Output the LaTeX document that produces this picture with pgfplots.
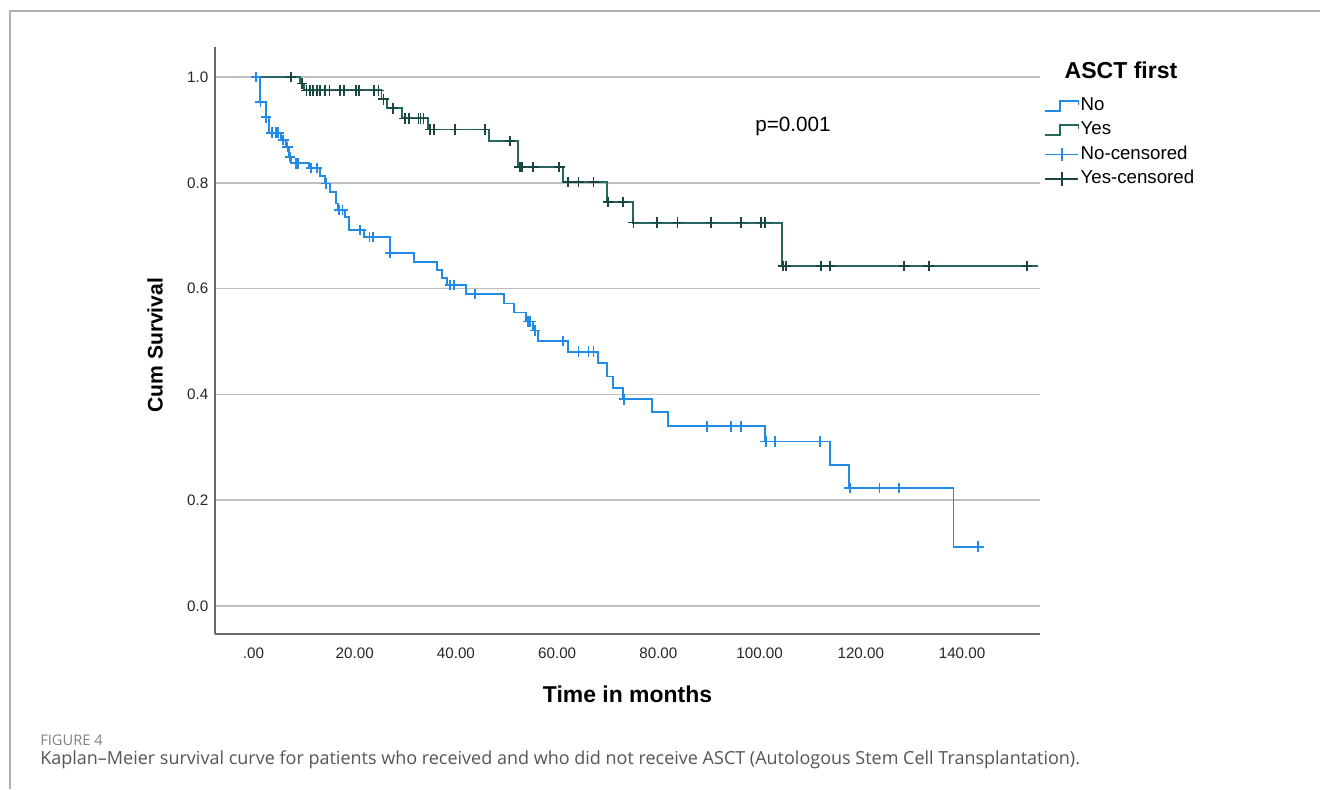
\documentclass[border=0pt]{standalone}
\usepackage{pgfplots}
\pgfplotsset{compat=1.18}
\usepackage{fontspec}
\setmainfont{Liberation Sans}
\newfontfamily\capfont{Open Sans}
\definecolor{noblue}{RGB}{33,140,230}
\definecolor{yesteal}{RGB}{38,104,96}
\definecolor{yesdark}{RGB}{25,70,65}
\definecolor{gridgray}{RGB}{190,190,190}
\definecolor{axisgray}{RGB}{105,105,105}
\definecolor{framegray}{RGB}{175,175,175}
\definecolor{capgray}{RGB}{85,85,85}

\pgfplotsset{
  steplegend/.style={legend image code/.code={\draw[##1] (0pt,-3.75pt) -- (11.25pt,-3.75pt) -- (11.25pt,3.75pt) -- (25pt,3.75pt) -- (25pt,0.75pt);}},
  censlegend/.style={legend image code/.code={\draw[##1] (0pt,0pt) -- (25pt,0pt); \draw[##1] (12.5pt,-5pt) -- (12.5pt,5pt);}},
}

\pgfplotstableread{
t s
0 1.0
9.2 0.988
10.0 0.975
25.3 0.958
26.4 0.941
29.3 0.922
34.5 0.901
46.6 0.879
52.3 0.830
61.2 0.802
69.9 0.764
74.9 0.725
104.4 0.643
155.1 0.643
}\yesstep

\pgfplotstableread{
t s
7.4 1.0
9.6 0.988
10.5 0.975
11.2 0.975
11.8 0.975
12.5 0.975
13.1 0.975
14.1 0.975
15.0 0.975
17.1 0.975
17.9 0.975
20.2 0.975
20.9 0.975
23.8 0.975
24.7 0.975
25.7 0.958
27.6 0.941
29.9 0.922
30.8 0.922
32.6 0.922
33.0 0.922
33.6 0.922
34.9 0.901
35.7 0.901
39.8 0.901
45.7 0.901
50.7 0.879
52.6 0.830
53.0 0.830
55.3 0.830
60.4 0.830
62.2 0.802
64.2 0.802
67.2 0.802
70.1 0.764
73.0 0.764
75.1 0.725
79.7 0.725
83.8 0.725
90.4 0.725
96.3 0.725
100.3 0.725
101.1 0.725
104.6 0.643
105.2 0.643
112.1 0.643
113.9 0.643
128.6 0.643
133.4 0.643
152.8 0.643
}\yescens

\pgfplotstableread{
t s
0 1.0
1.3 0.953
2.5 0.924
3.1 0.895
5.4 0.881
6.4 0.868
7.1 0.849
7.5 0.837
11.0 0.828
13.1 0.813
14.1 0.799
15.1 0.783
16.3 0.761
16.7 0.749
18.1 0.736
18.9 0.711
21.8 0.698
27.0 0.668
31.7 0.651
36.2 0.635
37.3 0.620
38.3 0.607
42.0 0.590
49.5 0.572
51.5 0.555
53.9 0.538
55.3 0.521
56.3 0.501
62.2 0.481
68.0 0.459
69.8 0.434
71.0 0.412
73.0 0.391
78.8 0.366
81.9 0.340
101.1 0.311
113.9 0.267
117.7 0.223
138.3 0.112
143.9 0.112
}\nostep

\pgfplotstableread{
t s
0.5 1.0
1.4 0.953
2.5 0.924
3.6 0.895
4.4 0.895
4.9 0.895
5.9 0.881
6.7 0.868
7.2 0.849
8.4 0.837
8.8 0.837
11.4 0.828
12.5 0.828
14.3 0.799
16.9 0.749
17.6 0.749
21.1 0.711
22.9 0.698
23.6 0.698
27.0 0.668
38.8 0.607
39.6 0.607
43.8 0.590
54.3 0.538
54.7 0.538
55.6 0.521
61.2 0.501
64.2 0.481
66.2 0.481
67.2 0.481
73.2 0.391
89.6 0.340
94.4 0.340
96.3 0.340
101.2 0.311
103.1 0.311
112.0 0.311
117.8 0.223
123.7 0.223
127.6 0.223
143.2 0.112
}\nocens

\begin{document}
\begin{tikzpicture}
\path[use as bounding box] (0,0) rectangle (990pt,-591.75pt);
\draw[framegray, line width=1pt] (7.5pt,-591.75pt) -- (7.5pt,-8.25pt) -- (990pt,-8.25pt);
\begin{axis}[
  at={(161.25pt,-475.5pt)}, anchor=south west,
  scale only axis, width=618.75pt, height=440.25pt,
  xmin=-7.6, xmax=155.4, ymin=-0.053, ymax=1.057,
  axis x line*=bottom, axis y line*=left,
  axis line style={-, axisgray, line width=1.4pt},
  xtick={0,20,40,60,80,100,120,140},
  xticklabels={.00,20.00,40.00,60.00,80.00,100.00,120.00,140.00},
  ytick={0,0.2,0.4,0.6,0.8,1},
  yticklabels={0.0,0.2,0.4,0.6,0.8,1.0},
  major tick length=0pt,
  ymajorgrids, grid style={gridgray, line width=1.1pt},
  tick label style={font=\fontsize{11.4}{13}\selectfont, text=black!85},
  xticklabel style={yshift=-7pt},
  yticklabel style={xshift=-1.5pt},
  xlabel={Time in months},
  xlabel style={font=\bfseries\fontsize{17.2}{20}\selectfont, at={(axis description cs:0.5,-0.102)}, anchor=center},
  ylabel={Cum Survival},
  ylabel style={font=\bfseries\fontsize{15.8}{18}\selectfont, at={(axis description cs:-0.0727,0.492)}, anchor=center},
  legend cell align=left,
  legend style={at={(1,0.922)}, anchor=north west, xshift=0pt, draw=none, fill=none,
    font=\fontsize{14}{16}\selectfont, row sep=3.3pt,
    nodes={inner sep=1pt, text height=10pt, text depth=3pt}},
]
\addplot[const plot, yesteal, line width=1.4pt, forget plot] table[x=t, y=s] {\yesstep};
\addplot[const plot, noblue, line width=1.4pt, forget plot] table[x=t, y=s] {\nostep};
\addplot[only marks, mark=+, mark size=4pt, yesdark, mark options={line width=1.3pt}, forget plot] table[x=t, y=s] {\yescens};
\addplot[only marks, mark=+, mark size=4pt, noblue, mark options={line width=1.3pt}, forget plot] table[x=t, y=s] {\nocens};

\addlegendimage{noblue, line width=1.3pt, steplegend}
\addlegendentry{No}
\addlegendimage{yesteal, line width=1.3pt, steplegend}
\addlegendentry{Yes}
\addlegendimage{noblue, line width=1.3pt, censlegend}
\addlegendentry{No-censored}
\addlegendimage{yesdark, line width=1.3pt, censlegend}
\addlegendentry{Yes-censored}

\node[font=\fontsize{15.5}{18}\selectfont] at (axis cs:106.6,0.907) {p=0.001};
\end{axis}
\node[font=\bfseries\fontsize{17.3}{20}\selectfont] at (840.75pt,-52.5pt) {ASCT first};
\node[anchor=west, inner sep=0pt, font=\capfont\fontsize{11}{13}\selectfont, text=gray] at (30pt,-555pt) {FIGURE 4};
\node[anchor=west, inner sep=0pt, font=\capfont\fontsize{13.5}{16}\selectfont, text=capgray] at (30pt,-570pt) {Kaplan–Meier survival curve for patients who received and who did not receive ASCT (Autologous Stem Cell Transplantation).};
\end{tikzpicture}
\end{document}
